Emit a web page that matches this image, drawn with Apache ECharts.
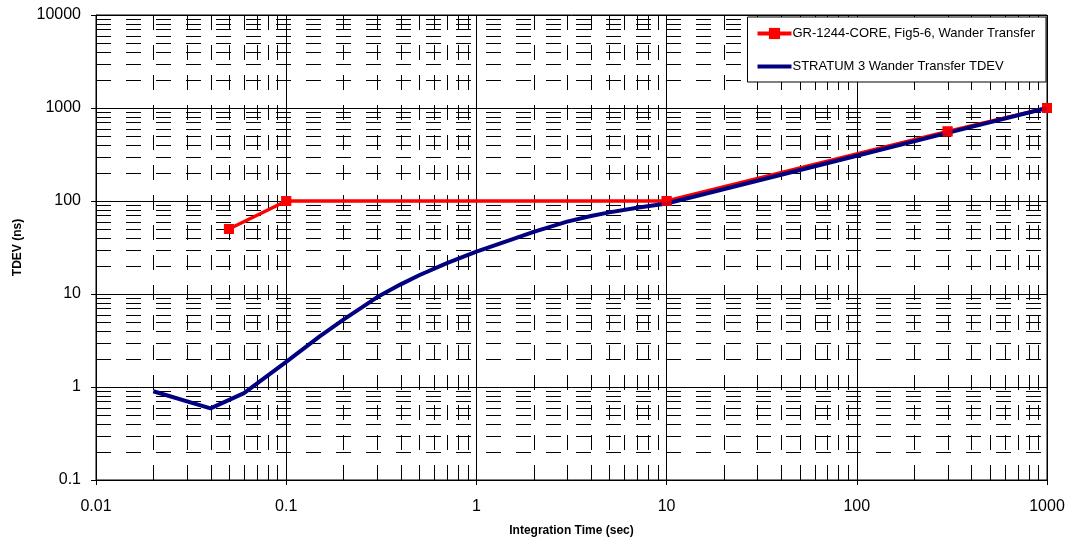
<!DOCTYPE html>
<html>
<head>
<meta charset="utf-8">
<script src="https://cdn.jsdelivr.net/npm/echarts@6/dist/echarts.min.js"></script>
<style>
html,body{margin:0;padding:0;background:#fff;}
#chart{width:1067px;height:542px;}
</style>
</head>
<body>
<div id="chart"></div>
<script>
// ---- data ----
const seriesNames = ['GR-1244-CORE, Fig5-6, Wander Transfer', 'STRATUM 3 Wander Transfer TDEV'];
const grMask = [[0.05, 50], [0.1, 100], [10, 100], [300, 560], [1000, 1000]];
const stratum3 = [
  [0.02, 0.9], [0.04, 0.59], [0.06, 0.86], [0.1, 1.86], [0.15, 3.5], [0.2, 5.3],
  [0.3, 9.2], [0.4, 12.7], [0.5, 15.9], [0.7, 21.5], [1, 28.5], [1.5, 38], [2, 46.5],
  [3, 60], [4, 69], [5, 75.5], [7, 84.5], [10, 94], [30, 165], [100, 307],
  [300, 540], [1000, 1000]
];
const xTickLabels = ['0.01', '0.1', '1', '10', '100', '1000'];
const yTickLabels = ['0.1', '1', '10', '100', '1000', '10000'];
const xMin = 0.01, xMax = 1000, yMin = 0.1, yMax = 10000;

// minor grid positions (2..9 per decade)
function minorValues(lo, hi) {
  const out = [];
  for (let d = lo; d < hi - 1e-12; d *= 10) {
    for (let m = 2; m <= 9; m++) out.push(+(m * d).toPrecision(6));
  }
  return out;
}
const xMinor = minorValues(xMin, xMax);
const yMinor = minorValues(yMin, yMax);

function fmt(labels) {
  return function (v) {
    const s = String(+Number(v).toPrecision(6));
    const f = labels.find(l => Math.abs(parseFloat(l) - v) / v < 1e-6);
    return f || s;
  };
}

const font = 'Liberation Sans, Arial, sans-serif';
const chart = echarts.init(document.getElementById('chart'));

const option = {
  backgroundColor: '#fff',
  animation: false,
  grid: {
    left: 96, right: 20, top: 15, bottom: 62,
    containLabel: false, outerBoundsMode: 'none',
    show: true, borderColor: '#000', borderWidth: 1
  },
  legend: {
    data: [
      { name: seriesNames[0], lineStyle: { width: 4 } },
      { name: seriesNames[1], lineStyle: { width: 4 }, itemStyle: { color: 'rgba(0,0,0,0)', borderWidth: 0 } }
    ],
    orient: 'vertical',
    right: 21, top: 17,
    backgroundColor: '#fff',
    borderColor: '#000', borderWidth: 1, borderRadius: 0,
    padding: [10, 11, 9, 8],
    itemGap: 20,
    itemWidth: 34, itemHeight: 14,
    textStyle: { fontFamily: font, fontSize: 13, color: '#000', padding: [0, 0, 0, -4] }
  },
  xAxis: {
    type: 'log', logBase: 10, min: xMin, max: xMax,
    name: 'Integration Time (sec)', nameLocation: 'middle', nameGap: 45,
    nameTextStyle: { fontFamily: font, fontSize: 12, fontWeight: 'bold', color: '#000' },
    axisLine: { lineStyle: { color: '#000', width: 1 } },
    axisTick: { show: true, inside: false, length: 5, lineStyle: { color: '#000' } },
    axisLabel: { fontFamily: font, fontSize: 16, color: '#000', margin: 19, formatter: fmt(xTickLabels) },
    splitLine: { show: true, lineStyle: { color: '#000', width: 1 } },
    minorTick: { show: false }, minorSplitLine: { show: false }
  },
  yAxis: {
    type: 'log', logBase: 10, min: yMin, max: yMax,
    name: 'TDEV (ns)', nameLocation: 'middle', nameGap: 72, nameRotate: 90,
    nameTextStyle: { fontFamily: font, fontSize: 12, fontWeight: 'bold', color: '#000' },
    axisLine: { show: true, lineStyle: { color: '#000', width: 1 } },
    axisTick: { show: true, inside: false, length: 5, lineStyle: { color: '#000' } },
    axisLabel: { fontFamily: font, fontSize: 16, color: '#000', margin: 15, formatter: fmt(yTickLabels) },
    splitLine: { show: true, lineStyle: { color: '#000', width: 1 } },
    minorTick: { show: false }, minorSplitLine: { show: false }
  },
  series: [
    {
      name: 'xminor', type: 'custom', silent: true, z: 1, clip: false,
      data: xMinor.map(v => [v, yMin]),
      renderItem: function (params, api) {
        const v = api.value(0);
        const p1 = api.coord([v, yMin]);
        const p2 = api.coord([v, yMax]);
        const x = Math.round(p1[0]) + 0.5;
        return {
          type: 'group', children: [
            { type: 'line', shape: { x1: x, y1: p1[1], x2: x, y2: p2[1] },
              style: { stroke: '#000', lineWidth: 1, lineDash: [15, 15] } },
            { type: 'line', shape: { x1: x, y1: p1[1], x2: x, y2: p1[1] - 5 },
              style: { stroke: '#000', lineWidth: 1 } }
          ]
        };
      }
    },
    {
      name: 'yminor', type: 'custom', silent: true, z: 1, clip: false,
      data: yMinor.map(v => [xMin, v]),
      renderItem: function (params, api) {
        const v = api.value(1);
        const p1 = api.coord([xMin, v]);
        const p2 = api.coord([xMax, v]);
        const y = Math.round(p1[1]) + 0.5;
        return {
          type: 'group', children: [
            { type: 'line', shape: { x1: p1[0], y1: y, x2: p2[0], y2: y },
              style: { stroke: '#000', lineWidth: 1, lineDash: [15, 15] } },
            { type: 'line', shape: { x1: p1[0], y1: y, x2: p1[0] + 5, y2: y },
              style: { stroke: '#000', lineWidth: 1 } }
          ]
        };
      }
    },
    {
      name: seriesNames[0], type: 'line', data: grMask, z: 3,
      symbol: 'rect', symbolSize: 10, showSymbol: true,
      itemStyle: { color: '#ff0000' },
      lineStyle: { color: '#ff0000', width: 3.5 }
    },
    {
      name: seriesNames[1], type: 'line', data: stratum3, z: 4,
      symbol: 'none', showSymbol: false,
      itemStyle: { color: '#000080' },
      lineStyle: { color: '#000080', width: 4, join: 'round' }
    },
    {
      name: 'grMarkers', type: 'scatter', data: grMask, z: 5,
      symbol: 'rect', symbolSize: 10, itemStyle: { color: '#ff0000' }, silent: true
    }
  ]
};
chart.setOption(option);
</script>
</body>
</html>
